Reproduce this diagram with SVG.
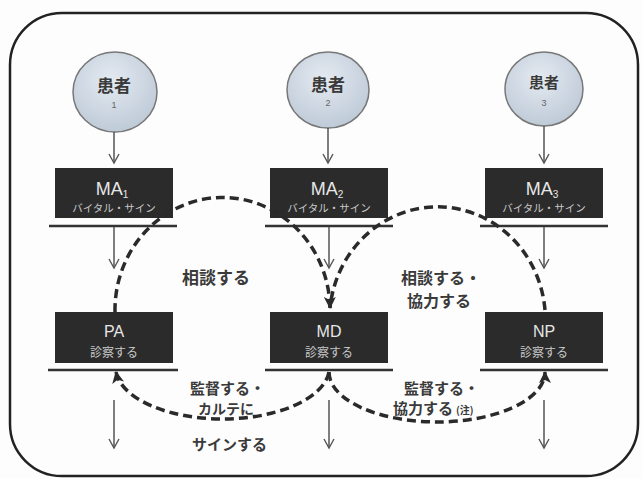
<svg xmlns="http://www.w3.org/2000/svg" width="643" height="479" viewBox="0 0 643 479">
<defs>
<radialGradient id="cg" cx="0.45" cy="0.35" r="0.7">
<stop offset="0" stop-color="#e4eaf1"/>
<stop offset="1" stop-color="#bcc8d6"/>
</radialGradient>
<marker id="ah" viewBox="0 0 12 12" refX="10" refY="6" markerWidth="12" markerHeight="12" markerUnits="userSpaceOnUse" orient="auto">
<path d="M1,1 L10,6 L1,11" fill="none" stroke="#555" stroke-width="1.4"/>
</marker>
<marker id="dh" viewBox="0 0 14 14" refX="12" refY="7" markerWidth="14" markerHeight="14" markerUnits="userSpaceOnUse" orient="auto">
<path d="M1,1 L13,7 L1,13 L4,7 Z" fill="#2a2a2a"/>
</marker>
</defs>
<style>
.frame{fill:none;stroke:#222;stroke-width:2.5}
.pt{fill:url(#cg);stroke:#777;stroke-width:1.5}
.pl{font-family:"Noto Sans CJK JP","Noto Sans",sans-serif;font-weight:bold;fill:#3a3a3a;text-anchor:middle}
.pn{font-family:"Liberation Sans",sans-serif;fill:#666;font-size:9px;text-anchor:middle}
.box{fill:#2b2b2b}
.ul{stroke:#333;stroke-width:2.5}
.bt{font-family:"Liberation Sans","Noto Sans",sans-serif;fill:#e6e6e6;text-anchor:middle}
.sub{font-family:"Liberation Sans",sans-serif;fill:#e6e6e6}
.bs{font-family:"Noto Sans CJK JP",sans-serif;fill:#c8c8c8;text-anchor:middle}
.ar{stroke:#555;stroke-width:1.5;fill:none;marker-end:url(#ah)}
.dash{fill:none;stroke:#2a2a2a;stroke-width:3.5;stroke-dasharray:9 5}
.lab{font-family:"Noto Sans CJK JP",sans-serif;font-weight:bold;fill:#3a3a3a}
</style>
<rect x="0" y="0" width="643" height="479" fill="#fdfdfd"/>
<rect class="frame" x="10" y="13" width="628" height="463" rx="52" ry="52"/>

<g id="patient1">
<ellipse class="pt" cx="115" cy="92" rx="42" ry="40"/>
<text class="pl" x="114" y="92" font-size="17">患者</text>
<text class="pn" x="114" y="108">1</text>
</g>
<g id="patient2">
<ellipse class="pt" cx="328" cy="90" rx="41" ry="38"/>
<text class="pl" x="328" y="91" font-size="17">患者</text>
<text class="pn" x="328" y="106">2</text>
</g>
<g id="patient3">
<ellipse class="pt" cx="544" cy="89" rx="39" ry="37"/>
<text class="pl" x="544" y="88" font-size="15">患者</text>
<text class="pn" x="544" y="106">3</text>
</g>

<g id="ma1">
<rect class="box" x="55" y="168" width="118" height="50"/>
<text class="bt" x="112" y="195" font-size="18">MA<tspan class="sub" font-size="10" dy="3">1</tspan></text>
<text class="bs" x="114" y="212" font-size="10.5">バイタル・サイン</text>
<line class="ul" x1="49" y1="226" x2="177" y2="226"/>
</g>
<g id="ma2">
<rect class="box" x="270" y="168" width="118" height="50"/>
<text class="bt" x="327" y="195" font-size="18">MA<tspan class="sub" font-size="10" dy="3">2</tspan></text>
<text class="bs" x="329" y="212" font-size="10.5">バイタル・サイン</text>
<line class="ul" x1="265" y1="226" x2="393" y2="226"/>
</g>
<g id="ma3">
<rect class="box" x="485" y="168" width="118" height="50"/>
<text class="bt" x="542" y="195" font-size="18">MA<tspan class="sub" font-size="10" dy="3">3</tspan></text>
<text class="bs" x="544" y="212" font-size="10.5">バイタル・サイン</text>
<line class="ul" x1="480" y1="226" x2="608" y2="226"/>
</g>

<g id="pa">
<rect class="box" x="55" y="312" width="118" height="51"/>
<text class="bt" x="114" y="337" font-size="16">PA</text>
<text class="bs" x="114" y="357" font-size="12">診察する</text>
<line class="ul" x1="48" y1="370" x2="178" y2="370"/>
</g>
<g id="md">
<rect class="box" x="270" y="312" width="118" height="51"/>
<text class="bt" x="329" y="337" font-size="16">MD</text>
<text class="bs" x="329" y="357" font-size="12">診察する</text>
<line class="ul" x1="265" y1="370" x2="393" y2="370"/>
</g>
<g id="np">
<rect class="box" x="485" y="312" width="118" height="51"/>
<text class="bt" x="544" y="337" font-size="16">NP</text>
<text class="bs" x="544" y="357" font-size="12">診察する</text>
<line class="ul" x1="480" y1="370" x2="608" y2="370"/>
</g>

<g id="connectors">
<line class="ar" x1="114" y1="132" x2="114" y2="163"/>
<line class="ar" x1="328" y1="128" x2="328" y2="163"/>
<line class="ar" x1="544" y1="126" x2="544" y2="163"/>
<line class="ar" x1="114" y1="227" x2="114" y2="268"/>
<line class="ar" x1="329" y1="227" x2="329" y2="268"/>
<line class="ar" x1="544" y1="227" x2="544" y2="268"/>
<line class="ar" x1="114" y1="400" x2="114" y2="448"/>
<line class="ar" x1="329" y1="400" x2="329" y2="448"/>
<line class="ar" x1="544" y1="400" x2="544" y2="448"/>
<path class="dash" d="M545,310 A108,113 0 0 0 330,308"/>
<path class="dash" d="M115,312 A107,112 0 0 1 330,308" marker-end="url(#dh)"/>
<path class="dash" d="M329,372 A107,52 0 0 1 116,372" marker-end="url(#dh)"/>
<path class="dash" d="M329,372 A108,50 0 0 0 545,372" marker-end="url(#dh)"/>
</g>

<g id="labels">
<text class="lab" x="182" y="284" font-size="17">相談する</text>
<text class="lab" x="401" y="284" font-size="16">相談する・</text>
<text class="lab" x="407" y="307" font-size="16">協力する</text>
<text class="lab" x="190" y="394" font-size="15">監督する・</text>
<text class="lab" x="198" y="414" font-size="14">カルテに</text>
<text class="lab" x="192" y="450" font-size="15">サインする</text>
<text class="lab" x="404" y="394" font-size="15">監督する・</text>
<text class="lab" x="393" y="414" font-size="15">協力する<tspan font-size="10" dx="3">(注)</tspan></text>
</g>
</svg>
